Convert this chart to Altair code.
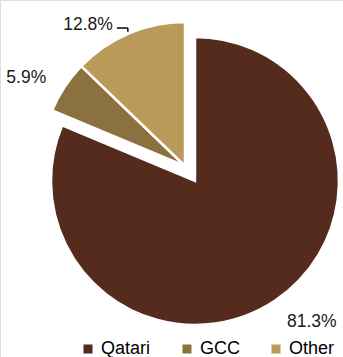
import altair as alt
import pandas as pd

categories = ["Qatari", "GCC", "Other"]
values = [81.3, 5.9, 12.8]
colors = ["#552B1D", "#8B713F", "#BA9A5A"]

df = pd.DataFrame({"category": categories, "value": values, "order": list(range(len(categories)))})

CX, CY, R = 185, 166, 144
EXPLODE = 18
LABEL_GAP = 22
MIN_Y = 22
FONT = "Liberation Sans"

base = alt.Chart(df).transform_joinaggregate(
    total="sum(value)"
).transform_window(
    cum="sum(value)", sort=[alt.SortField("order")], frame=[None, 0]
).transform_calculate(
    mid="2*PI*(datum.cum - datum.value/2)/datum.total",
    ex=f"datum.category == 'Qatari' ? {EXPLODE} : 0",
).transform_calculate(
    cx=f"{CX} + datum.ex*sin(datum.mid)",
    cy=f"{CY} - datum.ex*cos(datum.mid)",
).transform_calculate(
    lx=f"datum.cx + {R + LABEL_GAP}*sin(datum.mid)",
    ly=f"datum.cy - {R + LABEL_GAP}*cos(datum.mid)",
    edx=f"datum.cx + {R + 2}*sin(datum.mid)",
    edy=f"datum.cy - {R + 2}*cos(datum.mid)",
    label="format(datum.value, '.1f') + '%'",
).transform_calculate(
    moved=f"datum.ly < {MIN_Y}",
).transform_calculate(
    tx="datum.moved ? datum.edx - 15 : datum.lx",
    ty=f"datum.moved ? {MIN_Y} : datum.ly",
    right="sin(datum.mid) < 0 || datum.moved",
    leadx="datum.edx - 11",
    leady=f"{MIN_Y} + 6",
)

arcs = base.mark_arc(radius=R, stroke="white", strokeWidth=2.5).encode(
    theta=alt.Theta("value:Q", stack=True),
    order=alt.Order("order:Q"),
    x=alt.X("cx:Q", scale=None, axis=None),
    y=alt.Y("cy:Q", scale=None, axis=None),
    color=alt.Color(
        "category:N",
        scale=alt.Scale(domain=categories, range=colors),
        sort=categories,
        legend=alt.Legend(
            title=None, orient="none", direction="horizontal",
            legendX=79, legendY=340, padding=0,
            symbolType="square", symbolSize=81, symbolStrokeWidth=0,
            labelFont=FONT, labelFontSize=18, labelColor="#000000",
            labelOffset=4, columnPadding=27, symbolOffset=0,
        ),
    ),
)

txt_style = dict(font=FONT, fontSize=17.5, color="#1a1a1a", baseline="middle", dy=3)

text_left = base.transform_filter("!datum.right").mark_text(align="left", **txt_style).encode(
    x=alt.X("tx:Q", scale=None, axis=None),
    y=alt.Y("ty:Q", scale=None, axis=None),
    text="label:N",
)
text_right = base.transform_filter("datum.right").mark_text(align="right", **txt_style).encode(
    x=alt.X("tx:Q", scale=None, axis=None),
    y=alt.Y("ty:Q", scale=None, axis=None),
    text="label:N",
)

lead_v = base.transform_filter("datum.moved").mark_rule(color="#000000", strokeWidth=1.5).encode(
    x=alt.X("edx:Q", scale=None, axis=None),
    y=alt.Y("edy:Q", scale=None, axis=None),
    y2="leady:Q",
)
lead_h = base.transform_filter("datum.moved").mark_rule(color="#000000", strokeWidth=1.5).encode(
    x=alt.X("leadx:Q", scale=None, axis=None),
    x2="edx:Q",
    y=alt.Y("leady:Q", scale=None, axis=None),
)

chart = alt.layer(arcs, text_left, text_right, lead_v, lead_h).properties(
    width=343, height=357,
    autosize=alt.AutoSizeParams(type="none"),
    padding=0,
).configure_view(stroke=None).configure(background="white")

chart.save("out.html", embed_options={"renderer": "svg", "actions": False})
